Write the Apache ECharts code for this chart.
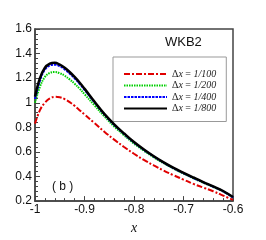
<!DOCTYPE html>
<html><head><meta charset="utf-8">
<script src="https://cdn.jsdelivr.net/npm/echarts@6/dist/echarts.min.js"></script>
<style>html,body{margin:0;padding:0;background:#fff}#c{width:266px;height:240px}</style>
</head><body><div id="c"></div>
<script>
var xs = [-1.00,-0.99,-0.98,-0.97,-0.96,-0.95,-0.94,-0.93,-0.92,-0.91,-0.90,-0.88,-0.86,-0.84,-0.82,-0.80,-0.78,-0.76,-0.74,-0.72,-0.70,-0.68,-0.66,-0.64,-0.62,-0.60];
var dx100 = [0.83,0.94,1.00,1.035,1.048,1.045,1.03,1.005,0.975,0.94,0.905,0.835,0.765,0.70,0.64,0.585,0.535,0.49,0.448,0.41,0.375,0.34,0.31,0.28,0.245,0.21];
var dx200 = [1.00,1.13,1.21,1.243,1.25,1.24,1.22,1.19,1.155,1.115,1.07,0.98,0.89,0.807,0.735,0.668,0.61,0.556,0.508,0.464,0.424,0.386,0.35,0.315,0.279,0.228];
var dx400 = [1.03,1.18,1.27,1.303,1.31,1.297,1.272,1.238,1.198,1.154,1.105,1.005,0.905,0.82,0.746,0.676,0.617,0.562,0.512,0.467,0.427,0.388,0.352,0.317,0.28,0.23];
var dx800 = [1.05,1.20,1.285,1.318,1.325,1.31,1.285,1.25,1.21,1.165,1.115,1.01,0.91,0.825,0.75,0.68,0.62,0.565,0.515,0.47,0.43,0.392,0.355,0.32,0.282,0.233];
var names = ['1/100','1/200','1/400','1/800'];
var xTicks = [-1,-0.9,-0.8,-0.7,-0.6];
var yTicks = [0.2,0.4,0.6,0.8,1,1.2,1.4,1.6];

function pairs(v){ return xs.map(function(x,i){ return [x, v[i]]; }); }
var chart = echarts.init(document.getElementById('c'), null, {renderer:'canvas'});
var styles = [
  {color:'#e00000', width:2, type:[6,2,2,2]},
  {color:'#00d000', width:2, type:[1.5,1]},
  {color:'#0000ff', width:2, type:[2.5,1]},
  {color:'#000000', width:2.5, type:'solid'}
];
var series = [dx100,dx200,dx400,dx800].map(function(v,i){
  return {name: names[i], type:'line', data: pairs(v), smooth:0.4, showSymbol:false, symbol:'none',
    lineStyle: styles[i], itemStyle:{color: styles[i].color}, z: 10+i};
});
var axisLabelStyle = {color:'#111', fontFamily:'Liberation Sans', fontSize:12};
chart.setOption({
  animation:false,
  grid:{left:35, top:29, right:33, bottom:29, show:true, borderColor:'#444', borderWidth:1.5, backgroundColor:'transparent'},
  xAxis:{type:'value', min:-1, max:-0.6, interval:0.1,
    name:'x', nameLocation:'middle', nameGap:18,
    nameTextStyle:{fontFamily:'Liberation Serif', fontStyle:'italic', fontSize:14, color:'#111'},
    axisLine:{show:true, onZero:false, lineStyle:{color:'#444', width:1.5}},
    axisTick:{show:true, inside:true, length:5, lineStyle:{color:'#444'}},
    minorTick:{show:true, splitNumber:5, length:3, lineStyle:{color:'#444'}},
    splitLine:{show:false},
    axisLabel:Object.assign({margin:3, formatter:function(v){ return String(Math.round(v*10)/10); }}, axisLabelStyle)
  },
  yAxis:{type:'value', min:0.2, max:1.6, interval:0.2,
    axisLine:{show:true, onZero:false, lineStyle:{color:'#444', width:1.5}},
    axisTick:{show:true, inside:true, length:5, lineStyle:{color:'#444'}},
    minorTick:{show:true, splitNumber:5, length:3, lineStyle:{color:'#444'}},
    splitLine:{show:false},
    axisLabel:Object.assign({margin:3, formatter:function(v){ return String(Math.round(v*10)/10); }}, axisLabelStyle)
  },
  legend:{show:true, orient:'vertical', left:113, top:57, padding:[12,10,8,10], itemGap:1.5, itemWidth:43, itemHeight:8,
    backgroundColor:'#fff', borderColor:'#999', borderWidth:1,
    itemStyle:{color:'transparent', borderColor:'transparent', borderWidth:0, opacity:0},
    data: names,
    formatter:function(n){ return '{d|\u0394}{i|x}{d| = }{i|' + n + '}'; },
    textStyle:{fontFamily:'Liberation Serif', fontSize:10, lineHeight:10, color:'#222', rich:{
      d:{fontFamily:'Liberation Serif', fontSize:10, lineHeight:10, color:'#222'},
      i:{fontFamily:'Liberation Serif', fontStyle:'italic', fontSize:10, lineHeight:10, color:'#222'}
    }}
  },
  graphic:[
    {type:'text', left:165, top:36, style:{text:'WKB2', font:'13px "Liberation Sans"', fill:'#111'}},
    {type:'text', left:52, top:181, style:{text:'( b )', font:'12px "Liberation Sans"', fill:'#111'}}
  ],
  series: series
});
</script></body></html>
